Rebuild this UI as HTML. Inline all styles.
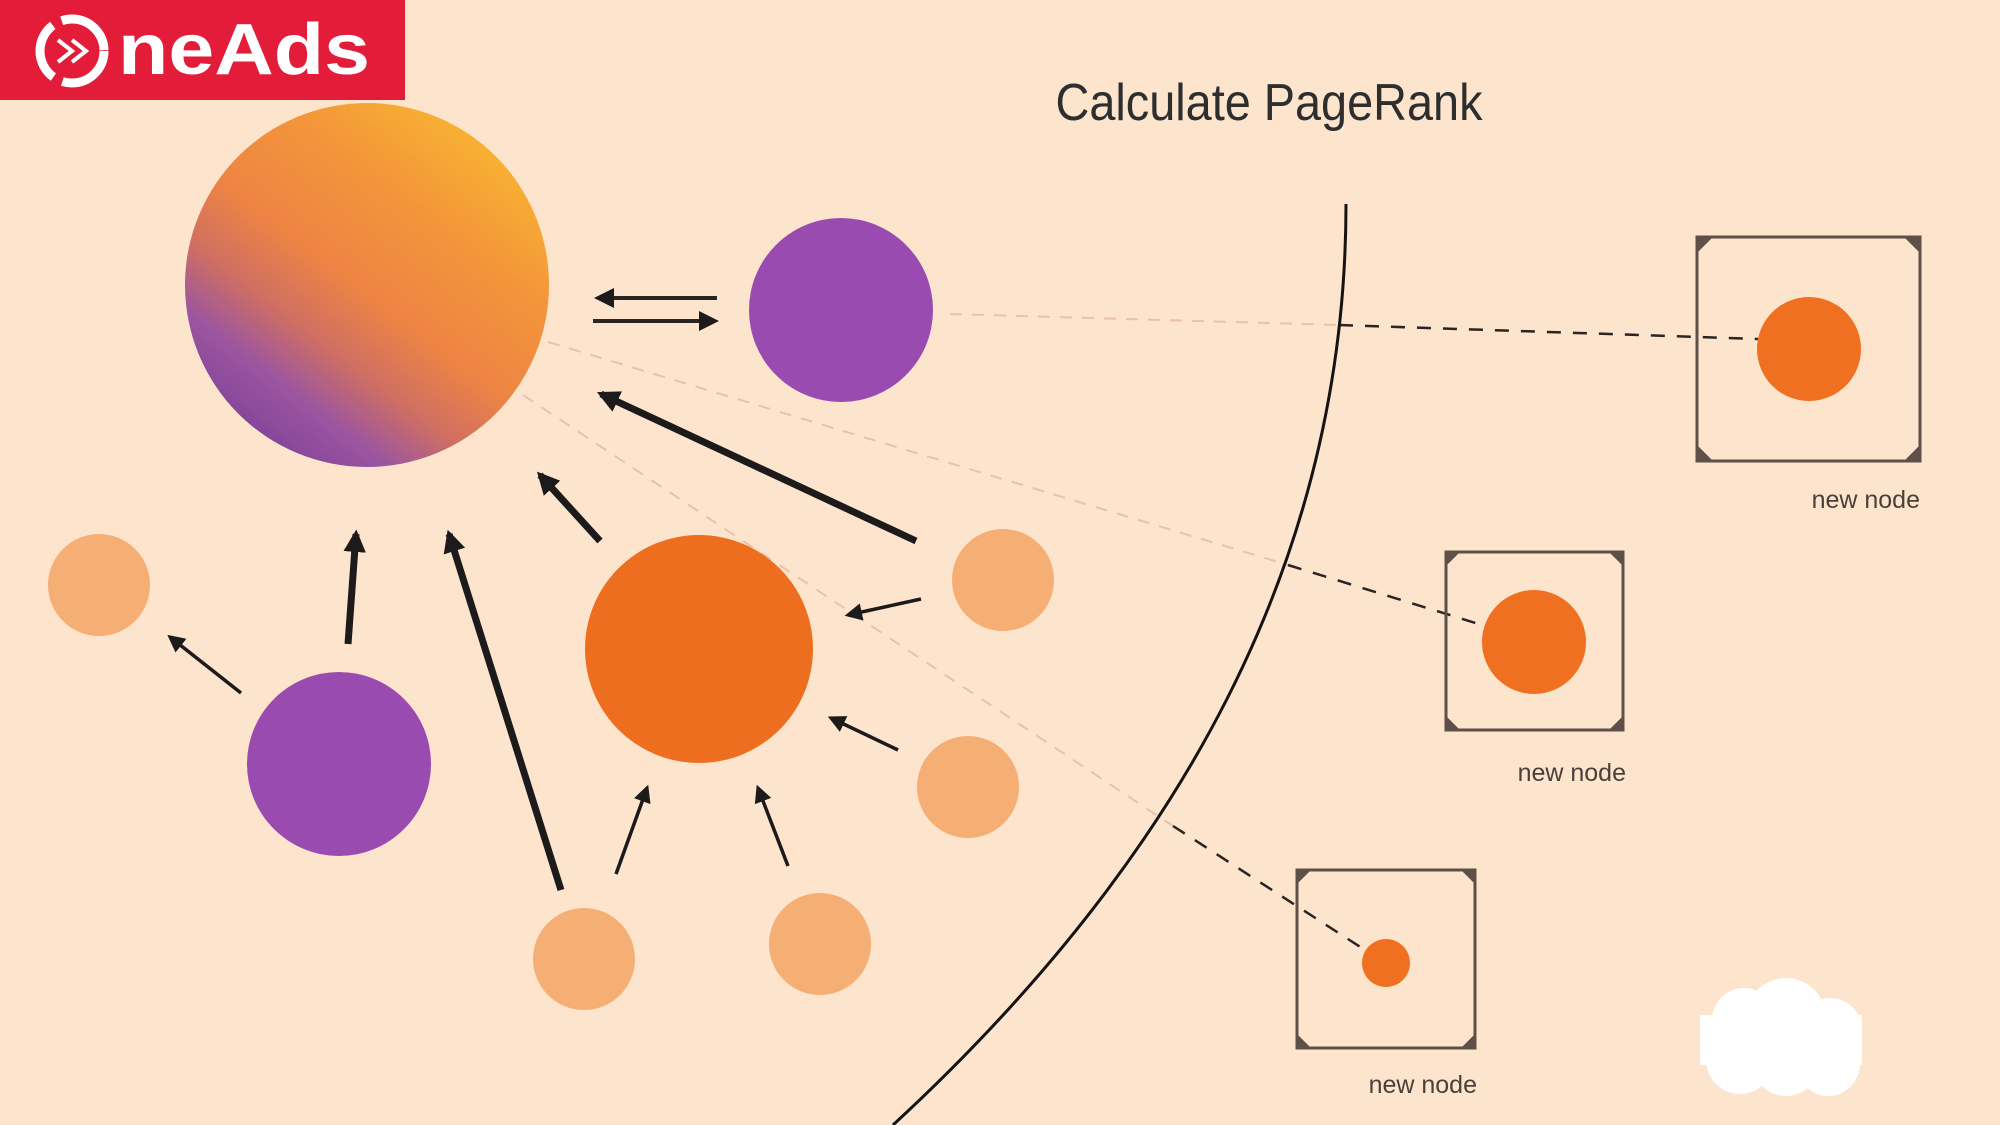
<!DOCTYPE html>
<html><head><meta charset="utf-8"><style>
html,body{margin:0;padding:0;background:#fce4cd;}
svg{display:block}
</style></head><body>
<svg width="2000" height="1125" viewBox="0 0 2000 1125" xmlns="http://www.w3.org/2000/svg">
<defs>
<linearGradient id="sph" x1="0.85" y1="0.05" x2="0.2" y2="0.9">
<stop offset="0" stop-color="#f9b830"/>
<stop offset="0.3" stop-color="#f3953a"/>
<stop offset="0.55" stop-color="#ee8444"/>
<stop offset="0.72" stop-color="#cf6f62"/>
<stop offset="0.87" stop-color="#9c55a0"/>
<stop offset="1" stop-color="#86479a"/>
</linearGradient>
<marker id="ah" viewBox="0 0 10 10" refX="8" refY="5" markerWidth="3.2" markerHeight="3.2" orient="auto"><path d="M0,0 L10,5 L0,10 z" fill="#1c1a1a"/></marker>
<marker id="ahs" viewBox="0 0 10 10" refX="8" refY="5" markerWidth="5" markerHeight="5" orient="auto"><path d="M0,0 L10,5 L0,10 z" fill="#1c1a1a"/></marker>
</defs>
<rect width="2000" height="1125" fill="#fce4cd"/>

<!-- logo -->
<rect x="0" y="0" width="405" height="100" fill="#e31c3a"/>
<circle cx="72" cy="51" r="32" fill="none" stroke="#fff" stroke-width="9" stroke-dasharray="60 10"/>
<path d="M58 40 L72 51 L58 62 M72 40 L86 51 L72 62" fill="none" stroke="#fff" stroke-width="4"/>
<text x="118" y="74" font-family="Liberation Sans, sans-serif" font-size="72" font-weight="bold" fill="#fff" textLength="252" lengthAdjust="spacingAndGlyphs">neAds</text>

<!-- title -->
<text x="1269" y="120" text-anchor="middle" font-family="Liberation Sans, sans-serif" font-size="52" fill="#2e2e2e" textLength="427" lengthAdjust="spacingAndGlyphs">Calculate PageRank</text>

<!-- faint dashed lines -->
<g stroke="#e8c2aa" stroke-width="2" stroke-dasharray="12 10" fill="none">
<line x1="950" y1="314" x2="1339" y2="325"/>
<line x1="548" y1="342" x2="1288" y2="565"/>
<line x1="523" y1="395" x2="1173" y2="826"/>
</g>
<g stroke="#2a2422" stroke-width="2.5" stroke-dasharray="14 12" fill="none">
<line x1="1339" y1="325" x2="1758" y2="339"/>
<line x1="1288" y1="565" x2="1482" y2="625"/>
<line x1="1173" y1="826" x2="1368" y2="952"/>
</g>

<path d="M1346 204 C1346 560 1180 860 893 1125" fill="none" stroke="#151313" stroke-width="3"/>

<circle cx="367" cy="285" r="182" fill="url(#sph)"/>
<circle cx="841" cy="310" r="92" fill="#9a4bb0"/>
<circle cx="699" cy="649" r="114" fill="#ed6e1f"/>
<circle cx="339" cy="764" r="92" fill="#9a4bb0"/>
<g fill="#f5ae74">
<circle cx="99" cy="585" r="51"/>
<circle cx="1003" cy="580" r="51"/>
<circle cx="968" cy="787" r="51"/>
<circle cx="584" cy="959" r="51"/>
<circle cx="820" cy="944" r="51"/>
</g>

<g stroke="#2a2422" stroke-width="4">
<line x1="717" y1="298" x2="598" y2="298" marker-end="url(#ahs)"/>
<line x1="593" y1="321" x2="715" y2="321" marker-end="url(#ahs)"/>
</g>

<g stroke="#1c1a1a" stroke-width="7" marker-end="url(#ah)">
<line x1="348" y1="644" x2="356" y2="534"/>
<line x1="561" y1="890" x2="449" y2="534"/>
<line x1="600" y1="541" x2="540" y2="475"/>
<line x1="916" y1="541" x2="601" y2="394"/>
</g>
<g stroke="#1c1a1a" stroke-width="3.5" marker-end="url(#ahs)">
<line x1="241" y1="693" x2="170" y2="637"/>
<line x1="921" y1="599" x2="848" y2="615"/>
<line x1="898" y1="750" x2="831" y2="718"/>
<line x1="616" y1="874" x2="647" y2="788"/>
<line x1="788" y1="866" x2="758" y2="788"/>
</g>

<g fill="none" stroke="#5e5048" stroke-width="3">
<rect x="1697" y="237" width="223" height="224"/>
<rect x="1446" y="552" width="177" height="178"/>
<rect x="1297" y="870" width="178" height="178"/>
</g>
<g fill="#5e5048">
<path d="M1697 237 h16 l-16 16z M1920 237 h-16 l16 16z M1697 461 h16 l-16 -16z M1920 461 h-16 l16 -16z"/>
<path d="M1446 552 h14 l-14 14z M1623 552 h-14 l14 14z M1446 730 h14 l-14 -14z M1623 730 h-14 l14 -14z"/>
<path d="M1297 870 h14 l-14 14z M1475 870 h-14 l14 14z M1297 1048 h14 l-14 -14z M1475 1048 h-14 l14 -14z"/>
</g>
<circle cx="1809" cy="349" r="52" fill="#f07021"/>
<circle cx="1534" cy="642" r="52" fill="#f07021"/>
<circle cx="1386" cy="963" r="24" fill="#f07021"/>

<g font-family="Liberation Sans, sans-serif" font-size="25" fill="#4a3f3a" text-anchor="end">
<text x="1920" y="508">new node</text>
<text x="1626" y="781">new node</text>
<text x="1477" y="1093">new node</text>
</g>

<g fill="#fff">
<circle cx="1744" cy="1020" r="32"/>
<circle cx="1786" cy="1018" r="40"/>
<circle cx="1830" cy="1030" r="32"/>
<circle cx="1740" cy="1060" r="34"/>
<circle cx="1786" cy="1062" r="34"/>
<circle cx="1828" cy="1064" r="32"/>
<rect x="1700" y="1015" width="162" height="50"/>
</g>
</svg>
</body></html>
